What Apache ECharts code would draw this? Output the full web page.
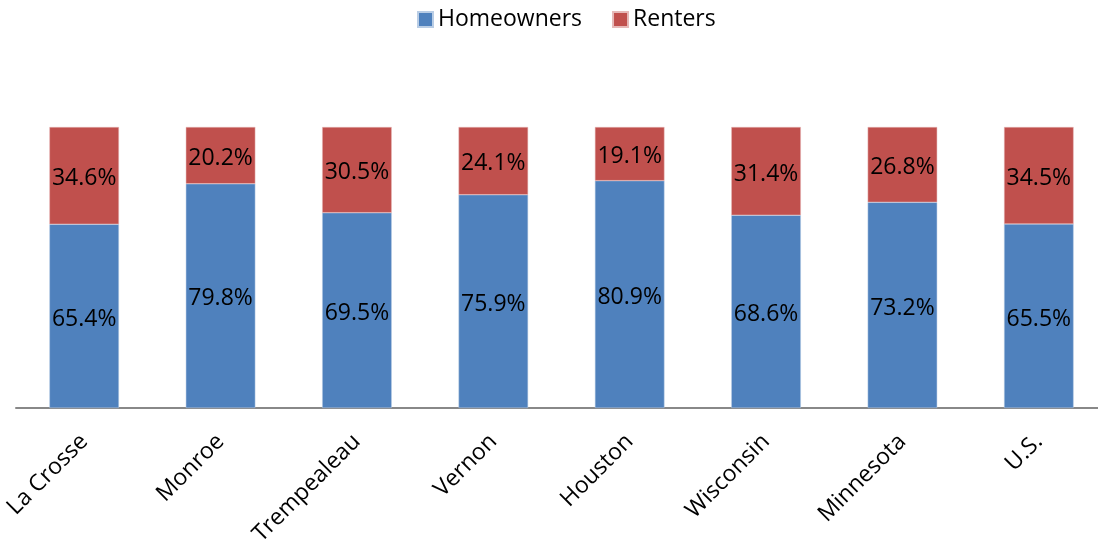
<!DOCTYPE html>
<html>
<head>
<meta charset="utf-8">
<script src="https://cdn.jsdelivr.net/npm/echarts@6/dist/echarts.min.js"></script>
<style>html,body{margin:0;padding:0;background:#fff;}#c{width:1098px;height:541px;}</style>
</head>
<body>
<div id="c"></div>
<script>
const categories = ["La Crosse", "Monroe", "Trempealeau", "Vernon", "Houston", "Wisconsin", "Minnesota", "U.S."];
const homeowners = [65.4, 79.8, 69.5, 75.9, 80.9, 68.6, 73.2, 65.5];
const renters = [34.6, 20.2, 30.5, 24.1, 19.1, 31.4, 26.8, 34.5];

const font = "Open Sans";
const chart = echarts.init(document.getElementById('c'));
const labelCfg = {
  show: true, position: 'inside', offset: [0, 3], color: '#000', fontFamily: font, fontSize: 23,
  formatter: p => p.value.toFixed(1) + '%'
};
chart.setOption({
  animation: false,
  textStyle: { fontFamily: font },
  legend: {
    top: 3, left: 412, itemWidth: 15, itemHeight: 15, itemGap: 30,
    icon: 'rect',
    textStyle: { fontFamily: font, fontSize: 23, color: '#000' },
    data: ['Homeowners', 'Renters']
  },
  grid: { left: 16, top: 127, right: -9, bottom: 133, containLabel: false, outerBoundsMode: 'none' },
  xAxis: {
    type: 'category', data: categories,
    axisLine: { lineStyle: { color: '#888', width: 2 } },
    axisTick: { show: false },
    axisLabel: { rotate: 45, fontFamily: font, fontSize: 23, color: '#000', margin: 30, interval: 0 }
  },
  yAxis: { type: 'value', min: 0, max: 100, show: false, splitLine: { show: false } },
  series: [
    { name: 'Homeowners', type: 'bar', stack: 'a', data: homeowners, barWidth: '51%',
      itemStyle: { color: '#4F81BD', borderColor: '#B9CDE5', borderWidth: 0.5 }, label: labelCfg },
    { name: 'Renters', type: 'bar', stack: 'a', data: renters, barWidth: '51%',
      itemStyle: { color: '#C0504D', borderColor: '#E6B9B8', borderWidth: 0.5 }, label: labelCfg }
  ]
});
</script>
</body>
</html>
